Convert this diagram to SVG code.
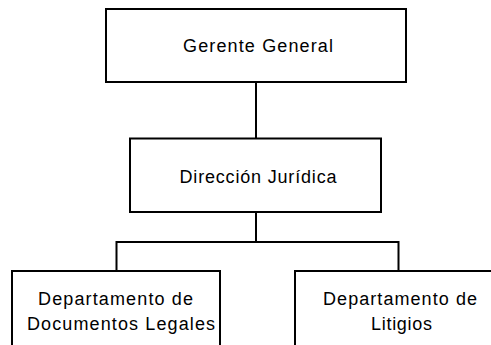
<svg xmlns="http://www.w3.org/2000/svg" width="491" height="345" viewBox="0 0 491 345">
<style>
.box{fill:#fff;stroke:#000;stroke-width:2}
.conn{fill:none;stroke:#000;stroke-width:2}
.t{font-family:"Liberation Sans",Arial,sans-serif;font-size:18px;fill:#000;text-anchor:middle}
</style>
<rect width="491" height="345" fill="#fff"/>
<g id="connectors">
<path class="conn" d="M256,82 V138"/>
<path class="conn" d="M256,212 V242"/>
<path class="conn" d="M116.5,271 V242 H398.5 V271"/>
</g>
<g id="gerente">
<rect class="box" x="106" y="9" width="300" height="73"/>
<text class="t" x="258" y="52" textLength="150" lengthAdjust="spacing">Gerente General</text>
</g>
<g id="direccion">
<rect class="box" x="130" y="138.5" width="251" height="73.5"/>
<text class="t" x="258" y="183" textLength="157" lengthAdjust="spacing">Dirección Jurídica</text>
</g>
<g id="documentos">
<rect class="box" x="12" y="271" width="208" height="90"/>
<text class="t" x="115.5" y="305" textLength="155" lengthAdjust="spacing">Departamento de</text>
<text class="t" x="121" y="330" textLength="188" lengthAdjust="spacing">Documentos Legales</text>
</g>
<g id="litigios">
<rect class="box" x="295" y="271" width="220" height="90"/>
<text class="t" x="400" y="305" textLength="154" lengthAdjust="spacing">Departamento de</text>
<text class="t" x="401.5" y="330" textLength="61" lengthAdjust="spacing">Litigios</text>
</g>
</svg>
